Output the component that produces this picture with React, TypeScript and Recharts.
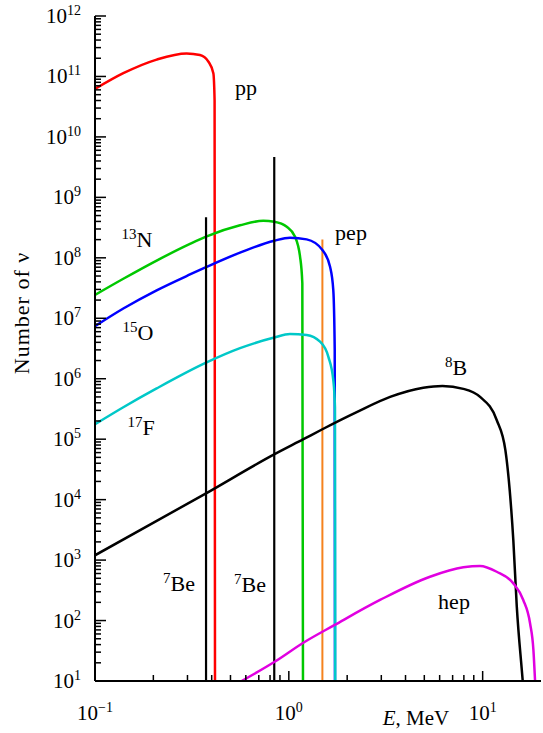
import { ComposedChart, Line, XAxis, YAxis } from 'recharts';

const FONT = '"Liberation Serif", "Times New Roman", serif';

// [E in MeV, number of neutrinos]
const pp = [[0.1, 6.2e10], [0.14, 1.13e11], [0.208, 1.9e11], [0.297, 2.4e11], [0.348, 2.26e11], [0.385, 1.75e11], [0.408, 1.13e11], [0.414, 4e10], [0.416, 10]];
const n13 = [[0.1, 2.43e7], [0.14, 4.5e7], [0.208, 9.0e7], [0.309, 1.7e8], [0.374, 2.24e8], [0.56, 3.45e8], [0.738, 4.1e8], [0.841, 3.95e8], [0.976, 3.27e8], [1.077, 2.23e8], [1.143, 1.04e8], [1.174, 3.8e7], [1.183, 10]];
const o15 = [[0.1, 7.4e6], [0.14, 1.45e7], [0.208, 2.9e7], [0.309, 5.3e7], [0.374, 7.0e7], [0.56, 1.22e8], [0.841, 1.92e8], [1.014, 2.15e8], [1.236, 2.02e8], [1.49, 1.35e8], [1.632, 7.1e7], [1.696, 2.93e7], [1.725, 3.0e6], [1.73, 10]];
const f17 = [[0.1, 1.76e5], [0.14, 3.37e5], [0.208, 6.9e5], [0.374, 1.84e6], [0.56, 3.2e6], [0.841, 4.8e6], [1.014, 5.5e6], [1.236, 5.3e6], [1.449, 4.1e6], [1.6, 2.3e6], [1.696, 9.5e5], [1.73, 3.4e5], [1.735, 10]];
const b8 = [[0.1, 1.2e3], [0.374, 1.27e4], [0.84, 5.6e4], [1.19, 1.0e5], [1.49, 1.46e5], [2.24, 2.8e5], [3.33, 5.0e5], [4.94, 7.1e5], [6.2, 7.6e5], [7.95, 6.8e5], [9.7, 5.0e5], [11.8, 2.1e5], [13.1, 6.6e4], [13.8, 1.4e4], [14.4, 2.1e3], [15.0, 170], [15.9, 16], [16.1, 10]];
const hep = [[0.571, 10], [0.849, 21], [1.188, 43], [1.717, 84], [2.955, 219], [5.35, 531], [7.95, 760], [9.69, 800], [11.82, 641], [14.4, 412], [16.2, 219], [17.56, 90], [18.27, 33], [18.64, 10]];

// monoenergetic lines
const be7Low = [[0.374, 10], [0.374, 4.7e8]];
const be7High = [[0.841, 10], [0.841, 4.65e9]];
const pepLine = [[1.49, 10], [1.49, 2.0e8]];

const xDecades = [0.1, 1, 10];
const yDecades = [1e1, 1e2, 1e3, 1e4, 1e5, 1e6, 1e7, 1e8, 1e9, 1e10, 1e11, 1e12];
const minorSteps = [2, 3, 4, 5, 6, 7, 8, 9];

const xTicks = [...xDecades, ...xDecades.flatMap((d) => minorSteps.map((m) => d * m))].filter((v) => v < 20);
const yTicks = [...yDecades, ...yDecades.slice(0, -1).flatMap((d) => minorSteps.map((m) => d * m))];

const rows = (pts: number[][]) => pts.map(([E, N]) => ({ E, N }));

const isDecade = (v: number) => Math.abs(Math.log10(v) - Math.round(Math.log10(v))) < 1e-6;
const expText = (v: number) => {
  const e = Math.round(Math.log10(v));
  return e < 0 ? '\u2212' + -e : String(e);
};

function XTick({ x, y, payload }: any) {
  const v = payload.value;
  const major = isDecade(v);
  return (
    <g>
      <line x1={x} y1={y} x2={x} y2={y - (major ? 10 : 6)} stroke="#000" strokeWidth={1.5} />
      {major && (
        <text x={x} y={y + 39} textAnchor="middle" fontFamily={FONT} fontSize={21} fill="#000">
          10<tspan dy={-8} fontSize={14}>{expText(v)}</tspan>
        </text>
      )}
    </g>
  );
}

function YTick({ x, y, payload }: any) {
  const v = payload.value;
  const major = isDecade(v);
  return (
    <g>
      <line x1={x} y1={y} x2={x + (major ? 11 : 6)} y2={y} stroke="#000" strokeWidth={1.5} />
      {major && (
        <text x={x - 14} y={y + 7} textAnchor="end" fontFamily={FONT} fontSize={21} fill="#000">
          10<tspan dy={-8} fontSize={14}>{expText(v)}</tspan>
        </text>
      )}
    </g>
  );
}

function Tag({ x, y, sup, text }: { x: number; y: number; sup?: string; text: string }) {
  return (
    <div
      style={{
        position: 'absolute',
        left: x,
        top: y,
        transform: 'translate(-50%, -50%)',
        whiteSpace: 'nowrap',
        fontFamily: FONT,
        fontSize: 22,
        lineHeight: 1,
        color: '#000',
      }}
    >
      {sup && <span style={{ fontSize: 15, position: 'relative', top: -8 }}>{sup}</span>}
      {text}
    </div>
  );
}

const curve = (data: number[][], color: string, width = 2.5, type: 'monotone' | 'linear' = 'monotone') => (
  <Line
    data={rows(data)}
    dataKey="N"
    type={type}
    stroke={color}
    strokeWidth={width}
    dot={false}
    activeDot={false}
    isAnimationActive={false}
  />
);

export default function App() {
  return (
    <div style={{ position: 'absolute', left: 0, top: 0, width: 543, height: 733, background: '#fff' }}>
      <ComposedChart width={543} height={733} margin={{ top: 16, right: 2, bottom: 12, left: 0 }}>
        <XAxis
          dataKey="E"
          type="number"
          scale="log"
          domain={[0.1, 20]}
          allowDataOverflow
          ticks={xTicks}
          interval={0}
          tick={(p: any) => <XTick {...p} />}
          tickLine={false}
          tickSize={0}
          tickMargin={0}
          height={40}
          axisLine={{ stroke: '#000', strokeWidth: 2 }}
        />
        <XAxis
          xAxisId="top"
          orientation="top"
          type="number"
          domain={[0, 1]}
          height={0}
          tick={false}
          tickLine={false}
          axisLine={{ stroke: '#000', strokeWidth: 2 }}
        />
        <YAxis
          dataKey="N"
          type="number"
          scale="log"
          domain={[10, 1e12]}
          allowDataOverflow
          ticks={yTicks}
          interval={0}
          tick={(p: any) => <YTick {...p} />}
          tickLine={false}
          tickSize={0}
          tickMargin={0}
          width={95}
          axisLine={{ stroke: '#000', strokeWidth: 2 }}
        />
        <YAxis
          yAxisId="right"
          orientation="right"
          type="number"
          domain={[0, 1]}
          width={0}
          tick={false}
          tickLine={false}
          axisLine={{ stroke: '#000', strokeWidth: 2 }}
        />
        {curve(pp, '#ff0000')}
        {curve(n13, '#00c800')}
        {curve(pepLine, '#f5821e', 2, 'linear')}
        {curve(o15, '#0000ff')}
        {curve(f17, '#00c8c8')}
        {curve(be7Low, '#000000', 2.2, 'linear')}
        {curve(be7High, '#000000', 2.2, 'linear')}
        {curve(b8, '#000000')}
        {curve(hep, '#e100e1')}
      </ComposedChart>

      <Tag x={246} y={88} text="pp" />
      <Tag x={137} y={240} sup="13" text="N" />
      <Tag x={138} y={333} sup="15" text="O" />
      <Tag x={141} y={428} sup="17" text="F" />
      <Tag x={351} y={233} text="pep" />
      <Tag x={456} y={368} sup="8" text="B" />
      <Tag x={454} y={602} text="hep" />
      <Tag x={179} y={584} sup="7" text="Be" />
      <Tag x={250} y={585} sup="7" text="Be" />

      <div
        style={{
          position: 'absolute',
          left: 22,
          top: 313,
          transform: 'translate(-50%, -50%) rotate(-90deg)',
          whiteSpace: 'nowrap',
          fontFamily: FONT,
          fontSize: 22,
          letterSpacing: 1,
          lineHeight: 1,
        }}
      >
        Number of ν
      </div>
      <div
        style={{
          position: 'absolute',
          left: 416,
          top: 718,
          transform: 'translate(-50%, -50%)',
          whiteSpace: 'nowrap',
          fontFamily: FONT,
          fontSize: 21,
          lineHeight: 1,
        }}
      >
        <i>E</i>, MeV
      </div>
    </div>
  );
}
